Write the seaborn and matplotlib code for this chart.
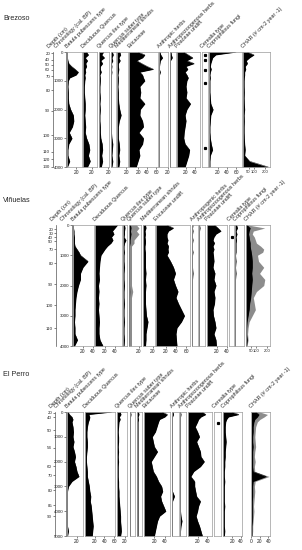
# Pollen / charcoal diagrams for Brezoso, Viñuelas and El Perro
import matplotlib
matplotlib.use("Agg")
import matplotlib.pyplot as plt
import seaborn as sns
import numpy as np
import pandas as pd

# ------------------------------------------------------------------
# Brezoso (ages in cal. BP, values in %)
brz_age = [0, 100, 200, 300, 400, 500, 600, 700, 800, 900, 1000, 1200, 1400,
           1600, 1800, 2000, 2200, 2400, 2600, 2800, 3000, 3200, 3400, 3600, 3800, 4000]
brz_betula = [1, 1, 1, 2, 4, 10, 18, 25, 20, 6, 3, 2, 3, 3, 4, 8, 14, 15, 12, 5, 11, 4, 2, 2, 6, 1]
brz_decq = [8, 12, 5, 10, 6, 8, 5, 6, 4, 5, 4, 3, 3, 4, 5, 5, 4, 5, 6, 5, 8, 13, 15, 12, 16, 10]
brz_qilex = [10, 6, 12, 4, 8, 3, 3, 5, 2, 3, 3, 2, 2, 3, 2, 3, 2, 2, 3, 3, 4, 7, 8, 6, 8, 5]
brz_qsuber = [3, 5, 2, 4, 1, 2, 1, 2, 1, 1, 1, 1, 1, 1, 1, 1, 1, 1, 1, 1, 2, 4, 3, 2, 4, 2]
brz_medshrub = [6, 8, 4, 7, 3, 3, 4, 3, 2, 3, 3, 2, 3, 3, 4, 6, 9, 5, 3, 3, 3, 5, 6, 4, 6, 4]
brz_ericaceae = [20, 35, 30, 17, 28, 40, 54, 24, 30, 32, 35, 24, 26, 24, 35, 25, 24, 30, 32, 22,
                 32, 30, 22, 24, 20, 16]
brz_anthropic = [2, 4, 8, 3, 2, 1, 1, 3, 1, 1, 1, 1, 1, 1, 1, 1, 1, 1, 1, 1, 1, 1, 1, 1, 1, 1]
brz_anthropozoo = [2, 3, 5, 1, 1, 1, 1, 1, 1, 1, 1, 1, 1, 1, 1, 1, 1, 1, 1, 1, 1, 1, 1, 1, 1, 1]
brz_poaceae = [15, 25, 35, 22, 38, 20, 24, 18, 22, 25, 22, 20, 22, 20, 30, 22, 18, 20, 18, 16,
               15, 18, 28, 26, 22, 18]
brz_cerealia_age = [100, 280, 620, 1090, 3350]
brz_cerealia = [0.5, 0.5, 0.5, 0.5, 0.5]
brz_copro = [60, 15, 8, 6, 4, 3, 5, 3, 2, 3, 2, 2, 2, 3, 4, 9, 4, 3, 2, 2, 3, 5, 8, 3, 2, 2]
brz_char = [40, 100, 60, 30, 40, 20, 25, 15, 15, 12, 10, 10, 12, 10, 12, 15, 10, 12, 10, 10,
            12, 15, 20, 15, 60, 230]
brz_depth_cm = [20, 40, 50, 60, 70, 80, 90, 100, 110, 120, 130]
brz_depth_age = [52, 278, 452, 626, 835, 1322, 2052, 2904, 3478, 3739, 3983]

# ------------------------------------------------------------------
# Viñuelas
vin_age = [0, 100, 200, 300, 400, 500, 600, 700, 800, 900, 1000, 1200, 1400,
           1600, 1800, 2000, 2200, 2400, 2600, 2800, 3000, 3200, 3400, 3600, 3800, 4000]
vin_betula = [1, 1, 2, 2, 3, 3, 3, 4, 8, 12, 15, 30, 20, 15, 15, 11, 8, 6, 5, 4, 4, 3, 4, 4, 9, 3]
vin_decq = [45, 40, 35, 38, 33, 36, 32, 25, 20, 16, 12, 10, 9, 8, 9, 7, 8, 7, 8, 7, 8, 9, 8, 8, 10, 16]
vin_qilex = [3, 4, 3, 3, 2, 6, 3, 2, 2, 3, 2, 2, 3, 2, 2, 3, 2, 2, 3, 2, 2, 3, 2, 2, 3, 2]
vin_qsuber = [3, 4, 3, 4, 3, 2, 2, 1, 1, 1, 1, 1, 1, 1, 1, 1, 1.5, 1, 1, 1, 1, 1, 1, 1, 1, 1]
vin_medshrub = [5, 6, 4, 5, 4, 5, 5, 4, 4, 5, 5, 5, 5, 6, 5, 6, 5, 5, 5, 6, 7, 10, 8, 6, 6, 5]
vin_ericaceae = [22, 35, 25, 22, 22, 24, 22, 25, 24, 25, 22, 29, 35, 39, 35, 39, 44, 40, 45, 51,
                 57, 51, 42, 40, 41, 42]
vin_anthropic = [2, 1, 2, 1, 1, 2, 1, 1, 1, 2, 1, 1, 1, 2, 1, 1, 1, 1, 1, 1, 1, 1, 1, 1, 1, 1]
vin_anthropozoo = [1, 2, 1, 1, 1, 1, 1, 1, 1, 1, 1, 1, 1, 1, 1, 1, 1, 1, 1, 1, 1, 1, 1, 1, 1, 1]
vin_poaceae = [15, 22, 28, 18, 14, 12, 15, 12, 14, 12, 13, 14, 12, 16, 14, 18, 14, 16, 15, 12,
               13, 16, 18, 14, 18, 19]
vin_cerealia_age = [400]
vin_cerealia = [0.5]
vin_copro = [3, 5, 2, 4, 2, 3, 2, 2, 2, 2, 1, 2, 1, 2, 1, 1, 1, 1, 1, 1, 1, 1, 1, 1, 1, 1]
vin_char = [10, 40, 30, 25, 30, 35, 40, 40, 45, 50, 55, 60, 60, 55, 60, 55, 50, 45, 35, 30,
            20, 10, 6, 5, 12, 5]
vin_char_grey = [20, 180, 70, 60, 80, 90, 100, 140, 170, 160, 110, 120, 170, 130, 180, 170,
                 100, 70, 80, 90, 60, 30, 20, 15, 20, 10]
vin_depth_cm = [20, 30, 40, 50, 70, 80, 90, 100, 110]
vin_depth_age = [133, 266, 398, 531, 797, 1261, 1959, 2656, 3419]

# ------------------------------------------------------------------
# El Perro
ep_age = [0, 100, 200, 300, 400, 600, 800, 1000, 1200, 1400, 1600, 1800, 2000, 2200,
          2400, 2600, 2800, 3000, 3200, 3400, 3600, 3800, 4000, 4200, 4400, 4600, 4800, 5000]
ep_betula = [2, 5, 10, 12, 10, 12, 13, 12, 14, 12, 15, 17, 15, 18, 20, 24, 10, 3, 1, 1, 1, 1,
             1, 1, 1, 1, 3, 1]
ep_decq = [55, 8, 10, 9, 7, 5, 4, 4, 5, 5, 4, 3, 3, 4, 5, 5, 7, 9, 10, 12, 11, 13, 14, 15, 16,
           17, 16, 15]
ep_qilex = [8, 10, 6, 8, 5, 4, 3, 4, 4, 3, 4, 3, 4, 3, 3, 3, 4, 4, 5, 5, 6, 7, 8, 9, 9, 10, 11, 9]
ep_qsuber = [1, 2, 1, 1, 1, 1, 1, 1, 1, 1, 1, 1, 1, 1, 1, 1, 1, 1, 1, 1, 1, 1, 1, 1, 1, 1, 1, 1]
ep_medshrub = [3, 4, 2, 3, 2, 2, 2, 2, 2, 2, 2, 2, 2, 2, 2, 2, 2, 2, 2, 2, 2, 2, 2, 2, 2, 2, 2, 2]
ep_ericaceae = [35, 45, 40, 30, 28, 25, 22, 16, 18, 20, 26, 20, 14, 16, 18, 24, 28, 34, 36, 32,
                34, 38, 42, 30, 26, 24, 22, 20]
ep_anthropic = [2, 3, 1, 1, 1, 1, 1, 1, 1, 1, 1, 1, 1, 1, 1, 1, 1, 1, 1, 5, 1, 1, 1, 1, 1, 1, 1, 1]
ep_anthropozoo = [1, 2, 1, 1, 1, 1, 1, 1, 1, 1, 1, 1, 1, 1, 1, 1, 1, 1, 1, 1, 1, 1, 1, 2, 4, 2,
                  1, 1]
ep_poaceae = [30, 37, 27, 22, 20, 15, 20, 24, 18, 22, 26, 27, 34, 26, 12, 6, 14, 14, 16, 18, 26,
              22, 20, 17, 20, 24, 27, 30]
ep_cerealia_age = [445]
ep_cerealia = [0.5]
ep_copro = [20, 35, 12, 8, 6, 5, 5, 6, 7, 6, 5, 5, 4, 4, 3, 3, 4, 3, 3, 3, 3, 4, 3, 3, 3, 3, 4, 3]
ep_char = [10, 18, 14, 8, 6, 4, 4, 3, 3, 4, 3, 3, 3, 3, 4, 35, 4, 3, 3, 3, 2, 2, 2, 2, 2, 1, 1, 1]
ep_char_grey = [20, 38, 30, 20, 14, 10, 9, 8, 9, 10, 8, 7, 9, 7, 8, 42, 9, 7, 8, 7, 6, 5, 6, 5,
                4, 3, 3, 2]
ep_depth_cm = [20, 40, 50, 54, 60, 70, 80, 85, 90]
ep_depth_age = [28, 215, 729, 1445, 2186, 2551, 3158, 3765, 4211]

# ------------------------------------------------------------------
sns.set_style("white")
plt.rcParams["font.family"] = ["Liberation Sans", "DejaVu Sans"]

W, H = 302, 550
fig = plt.figure(figsize=(W / 100, H / 100), dpi=100)
GREY = "#8c8c8c"
EDGE = "#9a9a9a"


# axes placed with pixel coordinates (y from the top)
def px_axes(x0, x1, y0, y1):
    return fig.add_axes([x0 / W, 1 - y1 / H, (x1 - x0) / W, (y1 - y0) / H])


def header(x, y, text):
    fig.text(x / W, 1 - y / H, text, rotation=45, ha="left", va="bottom",
             rotation_mode="anchor", fontsize=3.9)


def age_axis(x, top, bottom, age_max, ticks, labels):
    ax = px_axes(x, x + 0.01, top, bottom)
    ax.set_ylim(age_max, 0)
    ax.set_xticks([])
    ax.set_yticks(ticks)
    ax.set_yticklabels(labels)
    for s in ["top", "right", "bottom"]:
        ax.spines[s].set_visible(False)
    ax.spines["left"].set_color("#555555")
    ax.spines["left"].set_linewidth(0.5)
    ax.tick_params(axis="y", length=1.5, width=0.4, pad=0.6, labelsize=3.2,
                   colors="#222222", left=True)
    return ax


def column(col, ages, top, bottom, age_max):
    x0, x1, xlim, ticks = col["pos"], col["pos2"], col["xlim"], col["ticks"]
    ax = px_axes(x0, x1, top, bottom)
    if col.get("dots") is not None:
        ax.plot(col["vals"], col["dots"], "s", color="black", ms=1.3)
    else:
        vals = np.array(col["vals"], dtype=float)
        if col.get("grey") is not None:
            ax.fill_betweenx(ages, 0, col["grey"], color=GREY, lw=0)
        if col.get("exag"):
            ax.fill_betweenx(ages, 0, vals * col["exag"], color=GREY, lw=0)
        ax.fill_betweenx(ages, 0, vals, color="black", lw=0)
        df = pd.DataFrame({"age": ages, "val": vals})
        sns.lineplot(data=df, x="val", y="age", orient="y", sort=False,
                     estimator=None, color="black", lw=0.3, ax=ax)
    ax.set_xlim(*xlim)
    ax.set_ylim(age_max, 0)
    ax.set_xlabel("")
    ax.set_ylabel("")
    ax.set_yticks([])
    ax.set_xticks(ticks)
    ax.set_xticklabels([str(t) for t in ticks])
    for s in ax.spines.values():
        s.set_color(EDGE)
        s.set_linewidth(0.5)
    size = 3.0 if col.get("small_ticks") else 3.5
    ax.tick_params(axis="x", length=1.5, width=0.4, pad=0.8, labelsize=size,
                   colors="#222222", bottom=True)


def site(name, title_y, top, bottom, ages, age_max, depth_x, chron_x,
         depth_cm, depth_age, columns):
    fig.text(3 / W, 1 - title_y / H, name, fontsize=5.2, va="center", ha="left")
    age_axis(depth_x, top, bottom, age_max, depth_age, [str(d) for d in depth_cm])
    chron = list(range(0, age_max + 1, 1000))
    age_axis(chron_x, top, bottom, age_max, chron, [str(c) for c in chron])
    header(depth_x - 3, top - 3, "Depth (cm)")
    header(chron_x - 9, top - 3, "Chronology (cal. BP)")
    for col in columns:
        column(col, ages, top, bottom, age_max)
        header(col["pos"] + 1, top - 3, col["label"])


def col(label, vals, pos, pos2, xlim, ticks=(), **kw):
    d = dict(label=label, vals=vals, pos=pos, pos2=pos2, xlim=xlim, ticks=list(ticks))
    d.update(kw)
    return d


# ---------------- Brezoso ----------------
site("Brezoso", 18, 52, 167, brz_age, 4000, 53, 66, brz_depth_cm, brz_depth_age, [
    col("Betula pubescens type", brz_betula, 67, 82, (0, 33), [20]),
    col("Deciduous Quercus", brz_decq, 83, 97, (0, 31), [20]),
    col("Quercus ilex type", brz_qilex, 99, 109, (0, 22), [20]),
    col("Quercus suber type", brz_qsuber, 111, 116, (0, 11)),
    col("Mediterranean shrubs", brz_medshrub, 117, 128, (0, 24), [20]),
    col("Ericaceae", brz_ericaceae, 129, 158, (0, 64), [20, 40, 60]),
    col("Anthropic herbs", brz_anthropic, 159, 168, (0, 20), [20]),
    col("Anthropozoogenous herbs", brz_anthropozoo, 170, 176, (0, 13)),
    col("Poaceae undiff.", brz_poaceae, 177, 200, (0, 51), [20, 40]),
    col("Cerealia type", brz_cerealia, 202, 208, (0, 1), dots=brz_cerealia_age),
    col("Coprophilous fungi", brz_copro, 209, 242, (0, 73), [20, 40, 60]),
    col("CHAR (# cm-2 year -1)", brz_char, 243, 270, (0, 245), [50, 100, 200],
        small_ticks=True),
])

# ---------------- Viñuelas ----------------
site("Viñuelas", 200, 225, 346, vin_age, 4000, 56, 72, vin_depth_cm, vin_depth_age, [
    col("Betula pubescens type", vin_betula, 73, 94, (0, 42), [20, 40]),
    col("Deciduous Quercus", vin_decq, 95, 122, (0, 54), [20, 40]),
    col("Quercus ilex type", vin_qilex, 123, 127, (0, 8)),
    col("Quercus suber type", vin_qsuber, 129, 141, (0, 24), [20], exag=5),
    col("Mediterranean shrubs", vin_medshrub, 143, 155, (0, 24), [20]),
    col("Ericaceae undiff.", vin_ericaceae, 156, 190, (0, 68), [20, 40, 60]),
    col("Anthropogenic herbs", vin_anthropic, 192, 198, (0, 12)),
    col("Anthropozoogenous herbs", vin_anthropozoo, 199, 205, (0, 12)),
    col("Poaceae undiff.", vin_poaceae, 207, 227, (0, 40), [20, 40]),
    col("Cerealia type", vin_cerealia, 229, 234, (0, 1), dots=vin_cerealia_age),
    col("Coprophilous fungi", vin_copro, 235, 244, (0, 18)),
    col("CHAR (# cm-2 year -1)", vin_char, 246, 270, (0, 230), [50, 100, 200],
        grey=vin_char_grey, small_ticks=True),
])

# ---------------- El Perro ----------------
site("El Perro", 375, 412, 536, ep_age, 5000, 55, 66, ep_depth_cm, ep_depth_age, [
    col("Betula pubescens type", ep_betula, 67, 83, (0, 32), [20]),
    col("Deciduous Quercus", ep_decq, 85, 115, (0, 62), [20, 40, 60]),
    col("Quercus ilex type", ep_qilex, 117, 127, (0, 25), [20]),
    col("Quercus suber type", ep_qsuber, 130, 135, (0, 10)),
    col("Mediterranean shrubs", ep_medshrub, 137, 142, (0, 10)),
    col("Ericaceae", ep_ericaceae, 144, 170, (0, 50), [20, 40]),
    col("Anthropic herbs", ep_anthropic, 172, 179, (0, 14)),
    col("Anthropozoogenous herbs", ep_anthropozoo, 180, 186, (0, 12)),
    col("Poaceae undiff.", ep_poaceae, 188, 212, (0, 50), [20, 40]),
    col("Cerealia type", ep_cerealia, 214, 221, (0, 1), dots=ep_cerealia_age),
    col("Coprophilous fungi", ep_copro, 223, 242, (0, 42), [20, 40]),
    col("CHAR (# cm-2 year -1)", ep_char, 251, 270, (-1, 44), [0, 20, 40],
        grey=ep_char_grey),
])

fig.savefig("out.png", dpi=100)
